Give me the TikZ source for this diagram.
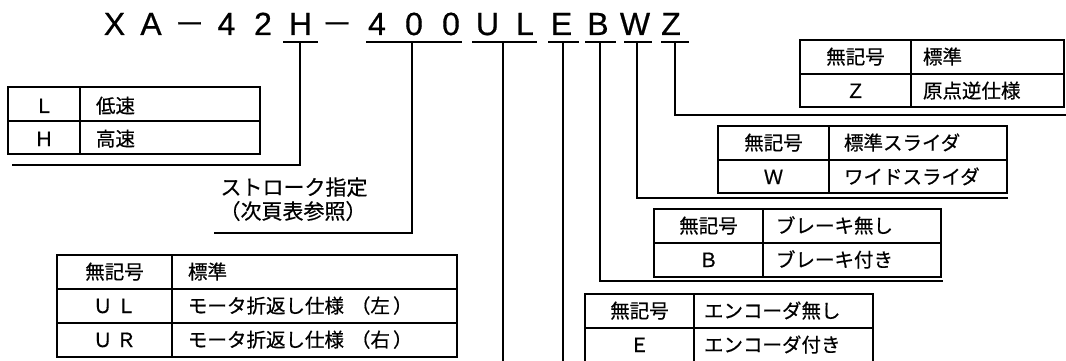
\documentclass[tikz,border=0pt]{standalone}
\usepackage{fontspec}
\setmainfont{Noto Sans CJK JP}
\newfontfamily\latn[FakeBold=0.6]{Liberation Sans}
\newfontfamily\cjk[FakeBold=0.5]{Noto Sans CJK JP}
\begin{document}
\begin{tikzpicture}[x=1pt,y=-1pt,line width=2pt,line join=miter,
  code/.style={font=\latn\fontsize{32}{32}\selectfont,anchor=base,inner sep=0pt},
  dashc/.style={font=\cjk\fontsize{31}{31}\selectfont,anchor=base,inner sep=0pt},
  sym/.style={font=\cjk\fontsize{19.5}{19.5}\selectfont,anchor=base,inner sep=0pt},
  lab/.style={font=\cjk\fontsize{19.5}{19.5}\selectfont,anchor=base west,inner sep=0pt},
  note/.style={font=\cjk\fontsize{21}{21}\selectfont,anchor=base,inner sep=0pt},
  tab/.style={line width=2.2pt},
  conn/.style={line width=2.5pt}]
\useasboundingbox (0,0) rectangle (1066,361);
% model code characters
\node[code] (cX) at (114.5,35) {X};
\node[code] (cA) at (151,35) {A};
\node[dashc] (cD1) at (189.5,35) {－};
\node[code] (c4a) at (226.5,35) {4};
\node[code] (c2) at (263,35) {2};
\node[code] (cH) at (300.5,35) {H};
\node[dashc] (cD2) at (337,35) {－};
\node[code] (c4b) at (377,35) {4};
\node[code] (c0a) at (414,35) {0};
\node[code] (c0b) at (451,35) {0};
\node[code] (cU) at (487.5,35) {U};
\node[code] (cL) at (525,35) {L};
\node[code] (cE) at (561.5,35) {E};
\node[code] (cB) at (598,35) {B};
\node[code] (cW) at (635,35) {W};
\node[code] (cZ) at (671,35) {Z};
% underlines
\draw[conn] (283,42) -- (318,42);
\draw[conn] (366,42) -- (462,42);
\draw[conn] (472,42) -- (537,42);
\draw[conn] (548,42) -- (579,42);
\draw[conn] (585,42) -- (616,42);
\draw[conn] (624,42) -- (652,42);
\draw[conn] (661,42) -- (689,42);
\coordinate (uH) at (300,42);
\coordinate (u4) at (412,42);
\coordinate (uU) at (503,42);
\coordinate (uE) at (563,42);
\coordinate (uB) at (600,42);
\coordinate (uW) at (637,42);
\coordinate (uZ) at (675,42);
\coordinate (eH) at (12,165);
\coordinate (e4) at (214,233);
\coordinate (eU) at (503,364);
\coordinate (eE) at (563,364);
\coordinate (eB) at (943,281);
\coordinate (eW) at (1008,198);
\coordinate (eZ) at (1068,115);
\draw[conn] (uH) |- (eH);
\draw[conn] (u4) |- (e4);
\draw[conn] (uU) -- (eU);
\draw[conn] (uE) -- (eE);
\draw[conn] (uB) |- (eB);
\draw[conn] (uW) |- (eW);
\draw[conn] (uZ) |- (eZ);
% L/H table
\draw[tab] (8,87) rectangle (260,154);
\draw[tab] (8,121) -- (260,121);
\draw[tab] (80,87) -- (80,154);
\node[sym] (tL) at (44,113) {Ｌ};
\node[lab] (tLd) at (95,113) {低速};
\node[sym] (tH) at (44,146) {Ｈ};
\node[lab] (tHd) at (95,146) {高速};
% stroke note
\node[note] (s1) at (294,195) {ストローク指定};
\node[note] (s2) at (293,219) {（次頁表参照）};
% UL/UR table
\draw[tab] (57,255) rectangle (457,357);
\draw[tab] (57,289) -- (457,289);
\draw[tab] (57,323) -- (457,323);
\draw[tab] (172,255) -- (172,357);
\node[sym] (u0) at (114.5,279) {無記号};
\node[lab] (u0d) at (187,279) {標準};
\node[sym] (u1) at (114.5,313) {Ｕ\hspace{4pt}Ｌ};
\node[lab] (u1d) at (187,313) {モータ折返し仕様\hspace{7pt}（左\hspace{3pt}）};
\node[sym] (u2) at (114.5,347) {Ｕ\hspace{4pt}Ｒ};
\node[lab] (u2d) at (187,347) {モータ折返し仕様\hspace{7pt}（右\hspace{3pt}）};
% E table
\draw[tab] (585,294) rectangle (873,362);
\draw[tab] (585,328) -- (873,328);
\draw[tab] (694,294) -- (694,362);
\node[sym] (e0) at (639.5,318) {無記号};
\node[lab] (e0d) at (703,318) {エンコーダ無し};
\node[sym] (e1) at (639.5,352) {Ｅ};
\node[lab] (e1d) at (703,352) {エンコーダ付き};
% B table
\draw[tab] (654,209) rectangle (941,277);
\draw[tab] (654,243) -- (941,243);
\draw[tab] (763,209) -- (763,277);
\node[sym] (b0) at (708.5,233) {無記号};
\node[lab] (b0d) at (775,233) {ブレーキ無し};
\node[sym] (b1) at (708.5,267) {Ｂ};
\node[lab] (b1d) at (775,267) {ブレーキ付き};
% W table
\draw[tab] (718,126) rectangle (1007,193);
\draw[tab] (718,160) -- (1007,160);
\draw[tab] (829,126) -- (829,193);
\node[sym] (w0) at (773.5,150) {無記号};
\node[lab] (w0d) at (843,150) {標準スライダ};
\node[sym] (w1) at (773.5,184) {Ｗ};
\node[lab] (w1d) at (843,184) {ワイドスライダ};
% Z table
\draw[tab] (800,40) rectangle (1064,107);
\draw[tab] (800,74) -- (1064,74);
\draw[tab] (911,40) -- (911,107);
\node[sym] (z0) at (855.5,64) {無記号};
\node[lab] (z0d) at (922,64) {標準};
\node[sym] (z1) at (855.5,98) {Ｚ};
\node[lab] (z1d) at (922,98) {原点逆仕様};
\end{tikzpicture}
\end{document}
